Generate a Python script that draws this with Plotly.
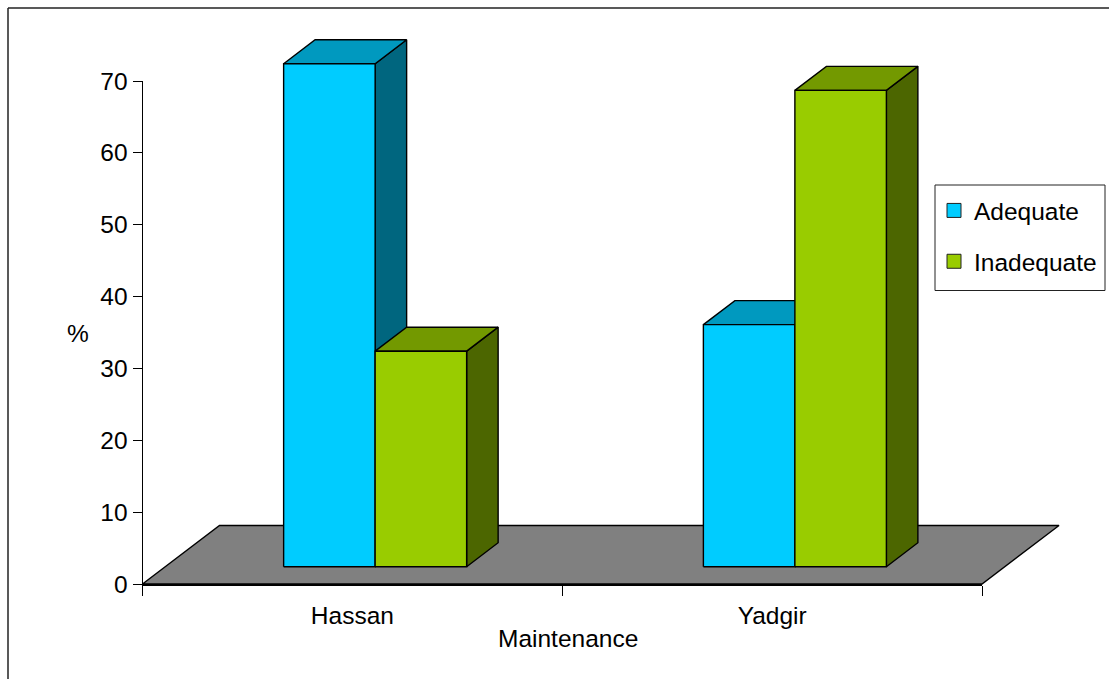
import plotly.graph_objects as go

# Chart data
categories = ["Hassan", "Yadgir"]
adequate = [70, 33.7]
inadequate = [30, 66.3]
y_ticks = [0, 10, 20, 30, 40, 50, 60, 70]
y_title = "%"
x_title = "Maintenance"

WIDTH, HEIGHT = 1109, 679

# Screen geometry of the pseudo-3D plot
AXIS_LEFT, AXIS_RIGHT = 142.5, 982.0
AXIS_BOTTOM, AXIS_TOP = 584.0, 81.0
PX_PER_CAT = (AXIS_RIGHT - AXIS_LEFT) / len(categories)
PX_PER_VAL = (AXIS_BOTTOM - AXIS_TOP) / y_ticks[-1]

# Depth of the floor and of each bar, as horizontal and vertical pixel shifts
FLOOR_DX, FLOOR_DY = 77, 58.5
BAR_DX, BAR_DY = 31.5, 24
BAR_PX = 91.5

dx = lambda px: px / PX_PER_CAT
dy = lambda px: px / PX_PER_VAL

COLORS = {
    "Adequate": dict(front="#00CCFF", top="#0099BF", side="#00667F"),
    "Inadequate": dict(front="#99CC00", top="#739900", side="#4C6600"),
}
OUTLINE = dict(color="black", width=1.4)

fig = go.Figure()


def face(xs, ys):
    """Closed polygon on the full-page data axes."""
    return xs + xs[:1], ys + ys[:1]


def add_face(xs, ys, color):
    px, py = face(xs, ys)
    fig.add_trace(go.Scatter(
        x=px, y=py, mode="lines", fill="toself", fillcolor=color,
        line=OUTLINE, showlegend=False, hoverinfo="skip",
    ))


def add_box(x0, value, colors):
    """One bar: side and top faces behind the front face."""
    x1 = x0 + dx(BAR_PX)
    y0 = dy((FLOOR_DY - BAR_DY) / 2)
    y1 = y0 + value
    ox, oy = dx(BAR_DX), dy(BAR_DY)
    add_face([x1, x1 + ox, x1 + ox, x1], [y0, y0 + oy, y1 + oy, y1], colors["side"])
    add_face([x0, x0 + ox, x1 + ox, x1], [y1, y1 + oy, y1 + oy, y1], colors["top"])
    add_face([x0, x1, x1, x0], [y0, y0, y1, y1], colors["front"])


# Floor
add_face(
    [0, len(categories), len(categories) + dx(FLOOR_DX), dx(FLOOR_DX)],
    [0, 0, dy(FLOOR_DY), dy(FLOOR_DY)],
    "#808080",
)

# Bars, back to front and left to right within each cluster
for i, (a, b) in enumerate(zip(adequate, inadequate)):
    left = i + 0.5 + dx((FLOOR_DX - BAR_DX) / 2) - dx(BAR_PX)
    add_box(left, a, COLORS["Adequate"])
    add_box(left + dx(BAR_PX), b, COLORS["Inadequate"])

# Legend entries
for name in ["Adequate", "Inadequate"]:
    fig.add_trace(go.Scatter(
        x=[None], y=[None], mode="markers", name=name, legendgroup=name,
        marker=dict(symbol="square", size=14, color=COLORS[name]["front"],
                    line=dict(color="#222222", width=1)),
    ))

# Invisible trace that keeps the visible axes alive
fig.add_trace(go.Scatter(
    x=[0], y=[0], xaxis="x2", yaxis="y2", mode="markers",
    marker=dict(opacity=0), showlegend=False, hoverinfo="skip",
))

FONT = dict(family="Liberation Sans, Arial, sans-serif", size=24.5, color="black")
TICKFONT = dict(FONT)

paper_x = lambda px: px / WIDTH
paper_y = lambda px: 1 - px / HEIGHT

fig.update_layout(
    width=WIDTH, height=HEIGHT,
    margin=dict(l=0, r=0, t=0, b=0, pad=0, autoexpand=False),
    paper_bgcolor="white", plot_bgcolor="rgba(0,0,0,0)",
    font=FONT,
    hovermode=False,
    # Hidden full-page axes that carry the polygons
    xaxis=dict(domain=[0, 1], visible=False, fixedrange=True,
               range=[-AXIS_LEFT / PX_PER_CAT, (WIDTH - AXIS_LEFT) / PX_PER_CAT]),
    yaxis=dict(domain=[0, 1], visible=False, fixedrange=True,
               range=[(AXIS_BOTTOM - HEIGHT) / PX_PER_VAL, AXIS_BOTTOM / PX_PER_VAL]),
    # Visible axes
    xaxis2=dict(
        domain=[paper_x(AXIS_LEFT), paper_x(AXIS_RIGHT)], range=[0, len(categories)],
        anchor="y2", showgrid=False, zeroline=False, fixedrange=True,
        showline=True, linecolor="black", linewidth=1.5,
        tickmode="array", tickvals=[i + 0.5 for i in range(len(categories))],
        ticktext=categories, ticks="outside", ticklen=9,
        tickcolor="rgba(0,0,0,0)", tickfont=TICKFONT,
        minor=dict(tickmode="array", tickvals=list(range(len(categories) + 1)),
                   ticks="outside", ticklen=10, tickcolor="black", tickwidth=1),
    ),
    yaxis2=dict(
        domain=[paper_y(AXIS_BOTTOM), paper_y(AXIS_TOP)], range=[0, y_ticks[-1]],
        anchor="x2", showgrid=False, zeroline=False, fixedrange=True,
        showline=True, linecolor="black", linewidth=1,
        tickmode="array", tickvals=y_ticks, ticks="outside", ticklen=9,
        tickcolor="black", tickwidth=1, tickfont=TICKFONT,
    ),
    legend=dict(
        x=paper_x(934), y=paper_y(188), xanchor="left", yanchor="top",
        bgcolor="rgba(0,0,0,0)", borderwidth=0, tracegroupgap=16,
        font=dict(FONT), itemclick=False, itemdoubleclick=False,
    ),
    shapes=[
        # Legend frame
        dict(type="rect", xref="paper", yref="paper",
             x0=paper_x(935), x1=paper_x(1105), y0=paper_y(185), y1=paper_y(290.5),
             line=dict(color="#222222", width=1), fillcolor="white", layer="between"),
        # Chart frame: only the top and left edges fall inside the page
        dict(type="line", xref="paper", yref="paper",
             x0=paper_x(8), x1=1, y0=paper_y(8), y1=paper_y(8),
             line=dict(color="#222222", width=1.5), layer="above"),
        dict(type="line", xref="paper", yref="paper",
             x0=paper_x(8), x1=paper_x(8), y0=paper_y(8), y1=0,
             line=dict(color="#222222", width=1.5), layer="above"),
    ],
    annotations=[
        dict(text=y_title, xref="paper", yref="paper", x=paper_x(78), y=paper_y(333),
             showarrow=False, xanchor="center", yanchor="middle", font=FONT),
        dict(text=x_title, xref="paper", yref="paper", x=paper_x(568), y=paper_y(638),
             showarrow=False, xanchor="center", yanchor="middle", font=FONT),
    ],
)

fig.write_html("out.html", config=dict(displayModeBar=False))
